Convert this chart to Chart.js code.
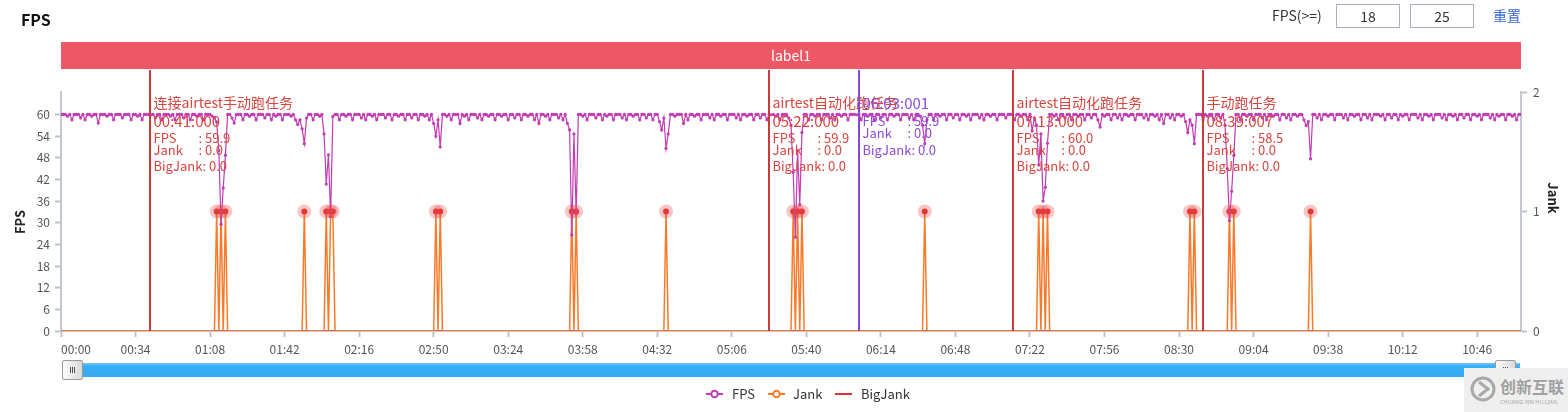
<!DOCTYPE html>
<html>
<head>
<meta charset="utf-8">
<script src="https://cdn.jsdelivr.net/npm/chart.js@4.4.1/dist/chart.umd.min.js"></script>
<style>
  body { margin: 0; background: #fff; font-family: 'Noto Sans CJK SC', 'Noto Sans', sans-serif; }
  #wrap { position: relative; width: 1568px; height: 412px; overflow: hidden; }
  #c { position: absolute; left: 0; top: 0; }
  .abs { position: absolute; white-space: nowrap; }
  #title { left: 21px; top: 7px; font-size: 16px; font-weight: bold; color: #111; }
  #fpsLabel { left: 1272px; top: 5px; font-size: 14px; color: #333; }
  .box { top: 4px; width: 62px; height: 22px; border: 1px solid #aab0c0; font-size: 14px; color: #333;
         text-align: center; line-height: 22px; }
  #reset { left: 1493px; top: 5px; font-size: 14px; color: #3a68d8; }
  #slider { left: 62px; top: 363px; width: 1458px; height: 14px;
            background: linear-gradient(#72c8f9 0, #3aaef4 3px, #34aaf2 100%); }
  .handle { top: 360px; width: 19px; height: 18px; border: 1px solid #9a9a9a; border-radius: 2px;
            background: linear-gradient(90deg, #fdfdfd, #d8d8d8); }
  .handle svg { position: absolute; left: 0; top: 0; }
  #legend { left: 0; top: 385px; width: 1568px; height: 18px; font-size: 13px; color: #333; }
  .item { position: absolute; top: 0; height: 18px; line-height: 18px; }
  #wm { left: 1464px; top: 368px; width: 104px; height: 44px; background: #efefef; color: #a0a0a0; }
</style>
</head>
<body>
<div id="wrap">
  <canvas id="c" width="1568" height="412"></canvas>
  <div class="abs" id="title">FPS</div>
  <div class="abs" id="fpsLabel">FPS(&gt;=)</div>
  <div class="abs box" style="left:1336px">18</div>
  <div class="abs box" style="left:1410px">25</div>
  <div class="abs" id="reset">重置</div>
  <div class="abs" id="slider"></div>
  <div class="abs handle" style="left:62px">
    <svg width="19" height="18"><path d="M7.5 6 V12 M9.5 6 V12 M11.5 6 V12" stroke="#555" stroke-width="1"/></svg>
  </div>
  <div class="abs handle" style="left:1495px">
    <svg width="19" height="18"><path d="M7.5 6 V12 M9.5 6 V12 M11.5 6 V12" stroke="#555" stroke-width="1"/></svg>
  </div>
  <div class="abs" id="legend">
    <div class="item" style="left:706px">
      <svg width="17" height="18" style="vertical-align:top"><line x1="0" y1="9" x2="17" y2="9" stroke="#c23cb4" stroke-width="2"/><circle cx="8.5" cy="9" r="3.2" fill="#fff" stroke="#c23cb4" stroke-width="2"/></svg>
    </div>
    <div class="item" style="left:732px">FPS</div>
    <div class="item" style="left:768px">
      <svg width="17" height="18" style="vertical-align:top"><line x1="0" y1="9" x2="17" y2="9" stroke="#f97a2a" stroke-width="2"/><circle cx="8.5" cy="9" r="3.2" fill="#fff" stroke="#f97a2a" stroke-width="2"/></svg>
    </div>
    <div class="item" style="left:793px">Jank</div>
    <div class="item" style="left:835px">
      <svg width="17" height="18" style="vertical-align:top"><line x1="0" y1="9" x2="17" y2="9" stroke="#e03131" stroke-width="2"/></svg>
    </div>
    <div class="item" style="left:861px">BigJank</div>
  </div>
  <div class="abs" id="wm">
    <svg width="104" height="44">
      <circle cx="19" cy="21" r="11" fill="none" stroke="#a8a8a8" stroke-width="3"/>
      <path d="M15 14 L24 21 L15 28" fill="none" stroke="#a8a8a8" stroke-width="3"/>
      <text x="36" y="25" font-size="16" font-weight="bold" fill="#a0a0a0" font-family="Noto Sans CJK SC">创新互联</text>
      <text x="36" y="36" font-size="5.5" fill="#a8a8a8" font-family="Noto Sans">CHUANG XIN HU LIAN</text>
    </svg>
  </div>
</div>
<script>
const FONT = "'Noto Sans CJK SC', 'Noto Sans', sans-serif";
Chart.defaults.font.family = FONT;

// FPS sampled once per second, 00:00 .. 11:06
const FPS_VALUES = [
  60,60,60,59.5,60,58.5,60,60,60,59,60,58.5,60,60,59.5,60,60,57.6,60,60,
  60,59.5,60,60,58.5,60,60,60,59,60,60,60,58.5,60,60,59.5,60,58.5,60,60,
  60,59.9,60,59,60,60,58.5,60,60,60,59.5,60,58.5,60,60,60,59,60,60,58.5,
  60,60,59.5,60,60,58.5,60,60,60,59.5,59,57.9,50,29.6,39.6,48.7,60,60,59,57.6,
  60,60,60,58.5,60,60,59.5,60,60,58.5,60,60,60,59,60,60,58.5,60,59.5,60,
  60,58.5,60,60,60,59.5,60,58.5,57.2,58.5,56,51.9,59,60,60,58.5,60,60,59.5,60,
  54.6,40.7,48.8,31.7,59.4,60,60,58.5,60,60,59.5,60,60,58.5,60,60,60,59,60,58.5,
  60,60,59.5,60,58.5,60,60,60,59,60,60,58.5,60,60,59.5,60,60,58.5,60,60,
  59,60,60,58.5,60,60,59.5,60,58.5,60,57.5,54,58.5,51,60,60,59.5,60,58.5,60,
  60,60,57.5,60,59.5,60,58.5,60,60,60,59,60,58.5,60,60,59.5,60,60,58.5,60,
  60,59.5,60,60,58.5,60,60,59,60,60,58.5,60,60,59.5,60,60,58.5,60,57.5,60,
  60,59.5,60,58.5,60,60,60,59,60,58.5,60,57.5,55.7,26.6,54.6,32.5,60,60,59.5,60,
  58.5,60,60,60,59,60,60,58.5,60,59.5,60,60,58.5,60,60,60,59,60,58.5,60,
  60,59.5,60,60,58.5,60,60,59,60,60,58.5,60,60,58,55.7,59,50.6,54.6,60,60,
  59.5,60,60,60,57.5,60,58.5,60,60,59.5,60,60,58.5,60,60,60,59,60,58.5,60,
  60,59.5,60,60,58.5,60,60,60,59,60,58.5,60,60,59.5,60,60,58.5,60,60,59,
  60,60,58.5,60,59.9,60,59.5,60,58.5,60,60,60,59,57,44,26,50,35,55,60,
  60,58.5,60,60,59.5,60,60,58.5,60,60,60,59,60,58.5,60,60,59.5,60,60,58.5,
  60,60,60,59.9,60,58.5,60,60,59.5,60,60,58.5,60,60,59,60,60,58.5,60,60,
  59.5,60,60,58.5,60,60,60,59,60,58.5,60,60,59.5,57,51.9,58.5,60,60,58.5,60,
  60,59.5,60,60,58.5,60,60,59,60,60,58.5,60,60,59.5,60,58.5,60,60,60,59,
  60,58.5,60,60,59.5,60,60,58.5,60,60,60,59,60,60,60,58.5,60,60,59.5,60,
  60,58.5,60,55.5,59,57,46,54.6,36,39.8,52,60,60,59.5,60,58.5,60,60,59,60,
  60,58.5,60,60,59.5,60,60,58.5,60,60,59,60,60,58.5,56.5,60,59.5,60,60,58.5,
  60,60,59,60,58.5,60,60,59.5,60,60,58.5,60,60,60,59,60,58.5,60,60,59.5,
  60,58.5,60,57.5,60,60,59,60,58.5,60,60,59.5,60,58,55,58.5,57,51.9,60,60,
  60,58.5,60,59.5,60,60,58.5,60,60,59,60,57,45,30.6,38.7,48.6,60,60,58.5,60,
  60,59.5,60,60,58.5,60,60,60,59,60,58.5,60,60,59.5,60,60,58.5,60,60,59,
  60,58.5,60,60,59.5,60,60,58.5,56.9,58,47.7,60,60,59,60,58.5,60,60,59.5,60,
  60,58.5,60,60,60,59,60,58.5,60,60,59.5,60,60,58.5,60,60,59,60,58.5,60,
  60,60,59.5,60,58.5,60,60,59,60,60,58.5,60,59.5,60,60,58.5,60,60,60,59,
  60,58.5,60,60,59.5,60,58.5,60,60,60,59,60,58.5,60,60,59.5,60,58.5,60,60,
  59,60,60,58.5,60,60,59.5,60,58.5,60,60,60,59,60,58.5,60,59.5,60,60,58.5,
  60,60,59.5,60,58.5,60,60
];
const SAMPLE_SECONDS = FPS_VALUES.map((v, i) => i);

// seconds at which Jank = 1 (0 elsewhere); BigJank stays 0 everywhere
const JANK_TIMES = [71, 73, 75, 111, 121, 123, 124, 171, 173, 233, 235, 276,
                    334, 336, 338, 394, 446, 448, 450, 515, 517, 533, 535, 570];
const BIGJANK_TIMES = [];

const X_TICKS = [0, 34, 68, 102, 136, 170, 204, 238, 272, 306, 340, 374, 408, 442, 476, 510, 544, 578, 612, 646];
const X_TICK_LABELS = ['00:00', '00:34', '01:08', '01:42', '02:16', '02:50', '03:24', '03:58', '04:32', '05:06',
                       '05:40', '06:14', '06:48', '07:22', '07:56', '08:30', '09:04', '09:38', '10:12', '10:46'];
const X_END = 666;
const FPS_TICKS = [0, 6, 12, 18, 24, 30, 36, 42, 48, 54, 60];
const JANK_TICKS = [0, 1, 2];

// marker lines
const MARKER_TIMES = [40.7, 323, 364, 434.3, 521];
const MARKER_KIND = ['task', 'task', 'point', 'task', 'task'];
const MARKER_TITLES = ['连接airtest手动跑任务', 'airtest自动化跑任务', '', 'airtest自动化跑任务', '手动跑任务'];
const MARKER_STAMPS = ['00:41:000', '05:22:000', '06:03:001', '07:13:000', '08:39:007'];
const MARKER_FPS = ['59.9', '59.9', '59.9', '60.0', '58.5'];
const MARKER_JANK = ['0.0', '0.0', '0.0', '0.0', '0.0'];
const MARKER_BIGJANK = ['0.0', '0.0', '0.0', '0.0', '0.0'];
const BAND_LABEL = 'label1';

const fpsData = SAMPLE_SECONDS.map((t, i) => ({ x: t, y: FPS_VALUES[i] }));
const jankData = SAMPLE_SECONDS.map(t => ({ x: t, y: JANK_TIMES.includes(t) ? 1 : 0 }));
const bigJankData = SAMPLE_SECONDS.map(t => ({ x: t, y: BIGJANK_TIMES.includes(t) ? 1 : 0 }));

const isJank = c => c.raw && c.raw.y === 1;

const overlay = {
  id: 'overlay',
  beforeDatasetsDraw(chart) {
    const { ctx, chartArea } = chart;
    ctx.save();
    ctx.fillStyle = '#ee5866';
    ctx.fillRect(chartArea.left, 42, chartArea.right - chartArea.left, 27);
    ctx.fillStyle = '#fff';
    ctx.font = '14px ' + FONT;
    ctx.textAlign = 'center';
    ctx.textBaseline = 'middle';
    ctx.fillText(BAND_LABEL, (chartArea.left + chartArea.right) / 2, 55.5);
    ctx.restore();
  },
  afterDatasetsDraw(chart) {
    const { ctx, chartArea } = chart;
    const x = chart.scales.x;
    ctx.save();
    ctx.textBaseline = 'middle';
    ctx.textAlign = 'left';
    MARKER_TIMES.forEach((t, i) => {
      const px = Math.round(x.getPixelForValue(t));
      const task = MARKER_KIND[i] === 'task';
      ctx.strokeStyle = task ? '#cc3a3a' : '#8a46d4';
      ctx.lineWidth = 2;
      ctx.beginPath();
      ctx.moveTo(px, 70);
      ctx.lineTo(px, chartArea.bottom);
      ctx.stroke();

      ctx.fillStyle = task ? '#d8453d' : '#8c4ad8';
      const x0 = px + 3.5;
      const rows = task ? [103, 121, 138, 150, 166] : [null, 103, 121.5, 133.5, 150];
      if (task) {
        ctx.font = '14px ' + FONT;
        ctx.fillText(MARKER_TITLES[i], x0, rows[0]);
      }
      ctx.font = '15px ' + FONT;
      ctx.fillText(MARKER_STAMPS[i], x0, rows[1]);
      ctx.font = '13px ' + FONT;
      ctx.fillText('FPS', x0, rows[2]);
      ctx.fillText(': ' + MARKER_FPS[i], x0 + 45, rows[2]);
      ctx.fillText('Jank', x0, rows[3]);
      ctx.fillText(': ' + MARKER_JANK[i], x0 + 45, rows[3]);
      ctx.fillText('BigJank: ' + MARKER_BIGJANK[i], x0, rows[4]);
    });
    ctx.restore();
  },
  afterDraw(chart) {
    const { ctx } = chart;
    ctx.save();
    ctx.font = 'bold 13px ' + FONT;
    ctx.fillStyle = '#222';
    ctx.textAlign = 'center';
    ctx.textBaseline = 'middle';
    ctx.translate(20, 222);
    ctx.rotate(-Math.PI / 2);
    ctx.fillText('FPS', 0, 0);
    ctx.restore();
    ctx.save();
    ctx.font = 'bold 13px ' + FONT;
    ctx.fillStyle = '#222';
    ctx.textAlign = 'center';
    ctx.textBaseline = 'middle';
    ctx.translate(1553, 198);
    ctx.rotate(Math.PI / 2);
    ctx.fillText('Jank', 0, 0);
    ctx.restore();
  }
};

const axisGrid = { drawOnChartArea: false, drawTicks: true, tickLength: 6, tickWidth: 2, tickColor: '#bfc3cc' };
const axisBorder = { display: true, color: '#c4c8d0', width: 2 };
const tickFont = { size: 12 };

const ctx = document.getElementById('c').getContext('2d');
const myChart = new Chart(ctx, {
  type: 'line',
  data: {
    datasets: [
      {
        label: 'JankHalo',
        data: jankData,
        yAxisID: 'y1',
        showLine: false,
        pointRadius: c => isJank(c) ? 7 : 0,
        pointBackgroundColor: 'rgba(230,70,70,0.3)',
        pointBorderWidth: 0,
        order: 0
      },
      {
        label: 'FPS',
        data: fpsData,
        yAxisID: 'y',
        borderColor: '#c23cb4',
        backgroundColor: '#c23cb4',
        borderWidth: 1.2,
        pointRadius: 1.6,
        pointBorderWidth: 0,
        pointBackgroundColor: '#c23cb4',
        order: 1
      },
      {
        label: 'Jank',
        data: jankData,
        yAxisID: 'y1',
        borderColor: '#f97a2a',
        borderWidth: 1.5,
        pointRadius: c => isJank(c) ? 3 : 1.1,
        pointBorderWidth: 0,
        pointBackgroundColor: c => isJank(c) ? '#e8312f' : '#f97a2a',
        order: 2
      },
      {
        label: 'BigJank',
        data: bigJankData,
        yAxisID: 'y1',
        borderColor: '#e03131',
        borderWidth: 1.5,
        pointRadius: 0,
        order: 3
      }
    ]
  },
  options: {
    responsive: false,
    animation: false,
    events: [],
    layout: { autoPadding: false, padding: { top: 92, bottom: 51, left: 0, right: 0 } },
    plugins: { legend: { display: false }, tooltip: { enabled: false } },
    scales: {
      x: {
        type: 'linear',
        min: 0,
        max: X_END,
        grid: {
          ...axisGrid,
          tickColor: c => c.index >= X_TICKS.length ? 'rgba(0,0,0,0)' : '#bfc3cc'
        },
        border: axisBorder,
        afterBuildTicks: s => { s.ticks = X_TICKS.concat([X_END]).map(v => ({ value: v })); },
        afterFit: s => { s.height = 30; },
        ticks: {
          autoSkip: false, maxRotation: 0, padding: 5, color: '#555', font: tickFont, align: 'inner',
          callback: (v, i) => X_TICK_LABELS[i] || ''
        }
      },
      y: {
        position: 'left',
        min: 0,
        max: 66.2,
        grid: axisGrid,
        border: axisBorder,
        afterBuildTicks: s => { s.ticks = FPS_TICKS.map(v => ({ value: v })); },
        afterFit: s => { s.width = 61; },
        ticks: { autoSkip: false, padding: 5, color: '#555', font: tickFont }
      },
      y1: {
        position: 'right',
        min: 0,
        max: 2,
        grid: axisGrid,
        border: axisBorder,
        afterBuildTicks: s => { s.ticks = JANK_TICKS.map(v => ({ value: v })); },
        afterFit: s => { s.width = 47; },
        ticks: { autoSkip: false, padding: 6, color: '#555', font: tickFont }
      }
    }
  },
  plugins: [overlay]
});
</script>
</body>
</html>
